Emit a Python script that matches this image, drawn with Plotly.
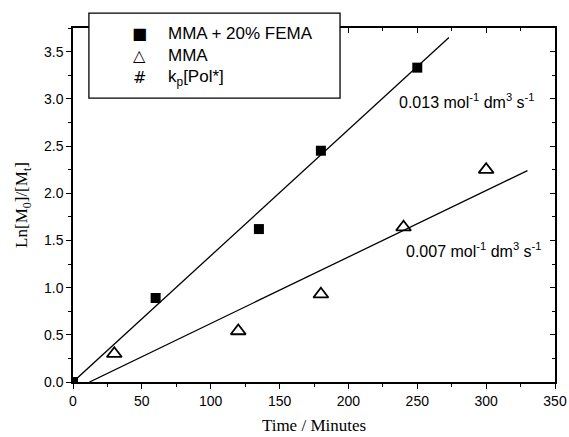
import plotly.graph_objects as go

# Data
fema_time = [0, 60, 135, 180, 250]
fema_ln = [0.0, 0.89, 1.62, 2.45, 3.33]
mma_time = [30, 120, 180, 240, 300]
mma_ln = [0.30, 0.54, 0.93, 1.64, 2.25]

fema_fit_x = [0, 273]
fema_fit_y = [0.0, 3.65]
mma_fit_x = [12, 330]
mma_fit_y = [0.0, 2.24]

legend_labels = ["MMA + 20% FEMA", "MMA", "k<sub>p</sub>[Pol*]"]
legend_glyphs = ["■", "△", "#"]
rate_labels = ["0.013 mol<sup>-1</sup> dm<sup>3</sup> s<sup>-1</sup>",
               "0.007 mol<sup>-1</sup> dm<sup>3</sup> s<sup>-1</sup>"]
rate_pos_x = [235, 240]
rate_pos_y = [2.98, 1.40]

X_RANGE = [0, 350]
Y_RANGE = [0, 3.75]
X_TICKS = [0, 50, 100, 150, 200, 250, 300, 350]
X_MINOR = [25, 75, 125, 175, 225, 275, 325]
Y_TICKS = [0, 0.5, 1.0, 1.5, 2.0, 2.5, 3.0, 3.5]
Y_TICKTEXT = ["0.0", "0.5", "1.0", "1.5", "2.0", "2.5", "3.0", "3.5"]
Y_MINOR = [0.25, 0.75, 1.25, 1.75, 2.25, 2.75, 3.25, 3.75]

fig = go.Figure()
fig.add_trace(go.Scatter(x=fema_fit_x, y=fema_fit_y, mode="lines",
                         line=dict(color="black", width=1.3), showlegend=False))
fig.add_trace(go.Scatter(x=mma_fit_x, y=mma_fit_y, mode="lines",
                         line=dict(color="black", width=1.3), showlegend=False))
fig.add_trace(go.Scatter(x=fema_time, y=fema_ln, mode="markers",
                         marker=dict(symbol="square", size=10, color="black"),
                         showlegend=False))
fig.add_trace(go.Scatter(x=mma_time, y=mma_ln, mode="markers",
                         marker=dict(symbol="triangle-up-open", size=13, color="black",
                                     line=dict(width=1.8, color="black")),
                         showlegend=False))
fig.add_trace(go.Scatter(x=[None], y=[None], xaxis="x2", yaxis="y2", showlegend=False))

tickfont = dict(family="Liberation Sans, Arial", size=14, color="black")
titlefont = dict(family="Liberation Serif, Times New Roman", size=17, color="black")
common = dict(showline=True, linecolor="black", linewidth=1.5, showgrid=False,
              zeroline=False, automargin=False)
fig.update_layout(
    width=569, height=437,
    margin=dict(l=73, r=14, t=28, b=55),
    paper_bgcolor="white", plot_bgcolor="white",
    showlegend=False,
    xaxis=dict(range=X_RANGE, tickvals=X_TICKS,
               ticks="outside", ticklen=5, tickwidth=1.3, tickcolor="black",
               minor=dict(tickvals=X_MINOR, ticks="outside",
                          ticklen=3, tickwidth=1.3, tickcolor="black"),
               tickfont=tickfont,
               title=dict(text="Time / Minutes", font=titlefont, standoff=12), **common),
    yaxis=dict(range=Y_RANGE, tickvals=Y_TICKS, ticktext=Y_TICKTEXT,
               ticks="outside", ticklen=5, tickwidth=1.3, tickcolor="black",
               minor=dict(tickvals=Y_MINOR, ticks="outside",
                          ticklen=3, tickwidth=1.3, tickcolor="black"),
               tickfont=tickfont,
               title=dict(text="Ln[M<sub>0</sub>]/[M<sub>t</sub>]", font=titlefont, standoff=12),
               **common),
    xaxis2=dict(range=X_RANGE, overlaying="x", side="top", anchor="y", tickvals=X_TICKS,
                ticks="inside", ticklen=5, tickwidth=1.3, tickcolor="black",
                minor=dict(tickvals=X_MINOR, ticks="inside",
                           ticklen=3, tickwidth=1.3, tickcolor="black"),
                showticklabels=False, **common),
    yaxis2=dict(range=Y_RANGE, overlaying="y", side="right", anchor="x", tickvals=Y_TICKS,
                ticks="inside", ticklen=5, tickwidth=1.3, tickcolor="black",
                minor=dict(tickvals=Y_MINOR, ticks="inside",
                           ticklen=3, tickwidth=1.3, tickcolor="black"),
                showticklabels=False, **common),
)

# legend box
fig.add_shape(type="rect", xref="paper", yref="paper", x0=0.033, x1=0.554, y0=0.802, y1=1.042,
              line=dict(color="black", width=1.3), fillcolor="white", layer="above")
row_y = [0.985, 0.923, 0.86]
for g, lab, yy in zip(legend_glyphs, legend_labels, row_y):
    fig.add_annotation(xref="paper", yref="paper", x=0.137, y=yy, text=g, showarrow=False,
                       xanchor="center", yanchor="middle",
                       font=dict(family="DejaVu Sans, Liberation Sans", size=16, color="black"))
    fig.add_annotation(xref="paper", yref="paper", x=0.192, y=yy, text=lab, showarrow=False,
                       xanchor="left", yanchor="middle",
                       font=dict(family="Liberation Sans, Arial", size=17, color="black"))

for lab, xx, yy in zip(rate_labels, rate_pos_x, rate_pos_y):
    fig.add_annotation(x=xx, y=yy, text=lab, showarrow=False, xanchor="left", yanchor="middle",
                       font=dict(family="Liberation Sans, Arial", size=16, color="black"))

fig.write_html("out.html", config={"displayModeBar": False},
               post_script="document.body.style.margin='0';document.body.style.overflow='hidden';")
